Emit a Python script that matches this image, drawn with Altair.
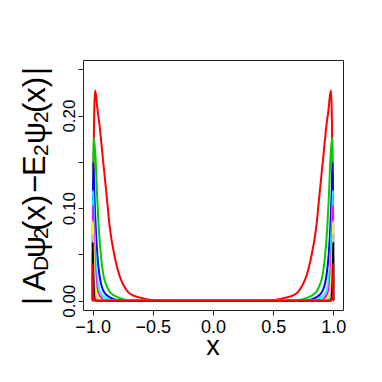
import altair as alt
import pandas as pd

# ---- data (left half; the curves are mirror-symmetric about x=0) ----
c1_x = [-1.0, -0.997, -0.9915, -0.986, -0.980, -0.972, -0.960, -0.9416, -0.914, -0.886, -0.859, -0.812, -0.776, -0.740, -0.701, -0.650, -0.604, -0.55, -0.50, -0.40]
c1_y = [0.0, 0.0, 0.150, 0.207, 0.227, 0.222, 0.207, 0.1884, 0.1525, 0.1166, 0.0806, 0.0447, 0.0267, 0.016, 0.0088, 0.005, 0.0034, 0.0015, 0.0008, 0.0]

c2_x = [-1.0, -0.997, -0.994, -0.9915, -0.985, -0.975, -0.964, -0.950, -0.928, -0.909, -0.880, -0.853, -0.784, -0.70, -0.60]
c2_y = [0.0, 0.0, 0.150, 0.1758, 0.170, 0.1525, 0.1166, 0.0806, 0.0447, 0.0267, 0.015, 0.0088, 0.0034, 0.0005, 0.0]

c3_x = [-1.0, -0.999, -0.997, -0.992, -0.986, -0.975, -0.958, -0.942, -0.903, -0.853, -0.78, -0.70]
c3_y = [0.0, 0.0, 0.149, 0.140, 0.1166, 0.0806, 0.0447, 0.0267, 0.0088, 0.0034, 0.0005, 0.0]

c4_x = [-1.0, -0.999, -0.998, -0.993, -0.986, -0.975, -0.964, -0.936, -0.895, -0.85, -0.80]
c4_y = [0.0, 0.0, 0.119, 0.105, 0.0806, 0.0447, 0.0267, 0.0088, 0.0034, 0.0005, 0.0]

c5_x = [-1.0, -0.9992, -0.998, -0.992, -0.983, -0.975, -0.955, -0.928, -0.90, -0.86]
c5_y = [0.0, 0.0, 0.103, 0.080, 0.0447, 0.0267, 0.0088, 0.0034, 0.0005, 0.0]

c6_x = [-1.0, -0.9995, -0.999, -0.993, -0.983, -0.969, -0.950, -0.93, -0.90]
c6_y = [0.0, 0.0, 0.086, 0.060, 0.0267, 0.0088, 0.0034, 0.0005, 0.0]

c7_x = [-1.0, -0.9997, -0.999, -0.993, -0.980, -0.969, -0.95, -0.93]
c7_y = [0.0, 0.0, 0.072, 0.040, 0.0088, 0.0034, 0.0005, 0.0]

c8_x = [-1.0, -0.9998, -0.9995, -0.995, -0.990, -0.985, -0.97]
c8_y = [0.0, 0.0, 0.063, 0.030, 0.012, 0.003, 0.0]

c9_x = [-1.0, -0.9999, -0.9997, -0.997, -0.993, -0.98]
c9_y = [0.0, 0.0, 0.040, 0.015, 0.004, 0.0]

curves_x = [c1_x, c2_x, c3_x, c4_x, c5_x, c6_x, c7_x, c8_x, c9_x]
curves_y = [c1_y, c2_y, c3_y, c4_y, c5_y, c6_y, c7_y, c8_y, c9_y]
colors = ["#FF0000", "#00CD00", "#0000FF", "#00FFFF", "#FF00FF", "#FFFF00", "#BEBEBE", "#000000", "#FF0000"]

x_ticks = [-1.0, -0.5, 0.0, 0.5, 1.0]
y_ticks = [0.0, 0.05, 0.10, 0.15, 0.20, 0.25]

# y-axis title pieces: (text, is_subscript, bottom y in px of plot area)
title_parts = [("|", False, 245), ("A", False, 231), ("D", True, 211), ("ψ", False, 198),
               ("2", True, 179), ("(x)", False, 171), ("−", False, 133), ("E", False, 116),
               ("2", True, 96), ("ψ", False, 84), ("2", True, 63), ("(x)", False, 53), ("|", False, 15)]

FONT = "Liberation Sans"

xs = alt.Scale(domain=[-1.08, 1.08], nice=False, zero=False)
ys = alt.Scale(domain=[-0.01, 0.26], nice=False, zero=False)

x_axis = alt.Axis(values=x_ticks, format=".1f", domain=False, grid=False,
                  tickSize=5, tickColor="#222", labelFontSize=18,
                  labelFont=FONT, labelColor="#000", labelPadding=3,
                  labelFlush=False, labelOverlap=False, title=None)
y_axis = alt.Axis(values=y_ticks, domain=False, grid=False,
                  tickSize=5, tickColor="#222", labelFontSize=17,
                  labelFont=FONT, labelColor="#000", labelAngle=270,
                  labelAlign="center", labelBaseline="alphabetic",
                  labelPadding=4, labelFlush=False, labelOverlap=False, title=None,
                  labelExpr="round(datum.value*100) % 10 == 0 ? format(datum.value, '.2f') : ''")

layers = []
for i, (cx, cy) in enumerate(zip(curves_x, curves_y)):
    px = list(cx) + [-v for v in reversed(cx)]
    py = list(cy) + list(reversed(cy))
    df = pd.DataFrame({"x": px, "y": py, "o": range(len(px))})
    layers.append(alt.Chart(df).mark_line(color=colors[i], strokeWidth=2, clip=True,
                                          interpolate="monotone").encode(
        x=alt.X("x:Q", scale=xs, axis=x_axis),
        y=alt.Y("y:Q", scale=ys, axis=y_axis),
        order="o:O",
    ))

# x-axis title
layers.append(alt.Chart(pd.DataFrame({"t": ["x"]})).mark_text(
    font=FONT, fontSize=27, align="center", baseline="alphabetic", color="#000"
).encode(text="t:N", x=alt.value(130), y=alt.value(295)))

# y-axis title with subscripts
for txt, sub, ypos in title_parts:
    layers.append(alt.Chart(pd.DataFrame({"t": [txt]})).mark_text(
        font=FONT, fontSize=21 if sub else 31, angle=270, align="left",
        baseline="alphabetic", color="#000"
    ).encode(text="t:N", x=alt.value(-35 if sub else -38), y=alt.value(ypos)))

chart = alt.layer(*layers).properties(
    width=260, height=250,
    autosize=alt.AutoSizeParams(type="none"),
    padding={"left": 75, "top": 52, "right": 31, "bottom": 64},
).configure(background="white").configure_view(stroke="#222", strokeWidth=1, fill="white")

chart.save("out.html", embed_options={"renderer": "svg", "actions": False})
